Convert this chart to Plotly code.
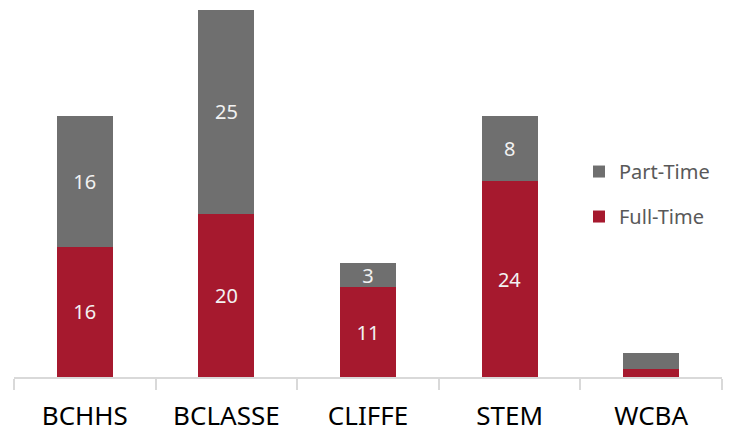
import plotly.graph_objects as go

schools = ["BCHHS", "BCLASSE", "CLIFFE", "STEM", "WCBA"]
full_time = [16, 20, 11, 24, 1]
part_time = [16, 25, 3, 8, 2]
# WCBA segments are too thin to carry a label
full_labels = ["16", "20", "11", "24", ""]
part_labels = ["16", "25", "3", "8", ""]

RED = "#A6192E"
GREY = "#6F6F6F"
FONT = "Noto Sans, Open Sans, sans-serif"

label_font = dict(color="#F2F2F2", size=20, family=FONT)

fig = go.Figure()
fig.add_trace(go.Bar(
    x=schools, y=full_time, name="Full-Time", marker_color=RED,
    marker_line_width=0, text=full_labels, textposition="inside",
    insidetextanchor="middle", textangle=0, constraintext="none",
    textfont=label_font, legendgroup="ft", legendrank=2,
))
fig.add_trace(go.Bar(
    x=schools, y=part_time, name="Part-Time", marker_color=GREY,
    marker_line_width=0, text=part_labels, textposition="inside",
    insidetextanchor="middle", textangle=0, constraintext="none",
    textfont=label_font, legendgroup="pt", legendrank=1,
))

fig.update_layout(
    width=730, height=434,
    barmode="stack", bargap=0.605,
    margin=dict(l=14, r=8, t=10, b=57),
    plot_bgcolor="white", paper_bgcolor="white",
    font=dict(family=FONT),
    legend=dict(
        x=0.798, y=0.613, xanchor="left", yanchor="top",
        font=dict(size=20, color="#595959", family=FONT),
        tracegroupgap=16, itemwidth=30, bgcolor="rgba(0,0,0,0)",
    ),
    showlegend=True,
)
fig.update_xaxes(
    showline=True, linecolor="#D9D9D9", linewidth=1.5,
    ticks="outside", tickson="boundaries", ticklen=11,
    tickcolor="#D9D9D9", tickwidth=1.5,
    tickfont=dict(size=26, color="#000000", family=FONT),
    ticklabelstandoff=15, automargin=False,
    showgrid=False,
)
fig.update_yaxes(range=[0, 45], visible=False, showgrid=False)

fig.write_html("out.html")
